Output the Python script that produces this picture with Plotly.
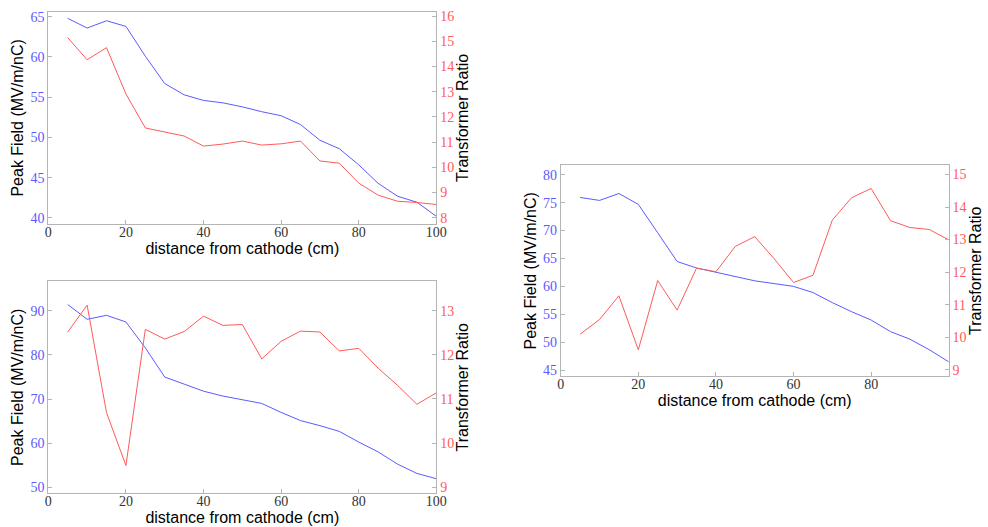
import plotly.graph_objects as go

# distance from cathode (cm)
distance = [5, 10, 15, 20, 25, 30, 35, 40, 45, 50,
            55, 60, 65, 70, 75, 80, 85, 90, 95, 100]

# panel A
peak_a = [64.8, 63.6, 64.5, 63.8, 60.1, 56.7, 55.3, 54.6, 54.3, 53.8,
          53.2, 52.7, 51.6, 49.65, 48.6, 46.6, 44.3, 42.7, 41.95, 40.2]
ratio_a = [15.15, 14.27, 14.75, 12.91, 11.56, 11.4, 11.24, 10.84, 10.92, 11.04,
           10.88, 10.93, 11.04, 10.25, 10.16, 9.37, 8.89, 8.65, 8.6, 8.52]

# panel B
peak_b = [91.4, 88.06, 88.96, 87.46, 81.6, 75.0, 73.4, 71.8, 70.7, 69.9,
          69.03, 67.0, 65.15, 64.0, 62.7, 60.3, 58.06, 55.3, 53.2, 52.0]
ratio_b = [12.52, 13.13, 10.69, 9.49, 12.58, 12.36, 12.53, 12.88, 12.67, 12.69,
           11.91, 12.31, 12.54, 12.52, 12.09, 12.15, 11.7, 11.31, 10.88, 11.14]

# panel C
peak_c = [75.92, 75.39, 76.63, 74.68, 69.6, 64.45, 63.3, 62.55, 61.67, 61.0,
          60.5, 60.0, 58.9, 57.1, 55.46, 53.98, 51.9, 50.55, 48.66, 46.5]
ratio_c = [10.09, 10.54, 11.27, 9.61, 11.74, 10.83, 12.12, 12.01, 12.79, 13.09,
           12.41, 11.68, 11.9, 13.6, 14.29, 14.57, 13.58, 13.37, 13.31, 12.99]

x_ticks_full = [0, 20, 40, 60, 80, 100]
x_ticks_short = [0, 20, 40, 60, 80]

BLUE = "#5a5aff"
RED = "#ff5a5a"
FRAME = "#b4b4b4"
TICK_FONT = "Liberation Serif"
LABEL_FONT = "Liberation Sans"

W, H = 988, 527

panels = [
    dict(peak=peak_a, ratio=ratio_a, box=(45, 439, 9, 223),
         yl=[39.26, 65.6], ylt=[40, 45, 50, 55, 60, 65],
         yr=[7.75, 16.17], yrt=list(range(8, 17)),
         xr=[0, 100], xt=x_ticks_full),
    dict(peak=peak_b, ratio=ratio_b, box=(45, 439, 281, 495),
         yl=[48.7, 96.65], ylt=[50, 60, 70, 80, 90],
         yr=[8.86, 13.67], yrt=[9, 10, 11, 12, 13],
         xr=[0, 100], xt=x_ticks_full),
    dict(peak=peak_c, ratio=ratio_c, box=(565.3, 959.3, 164, 376.7),
         yl=[43.94, 81.65], ylt=[45, 50, 55, 60, 65, 70, 75, 80],
         yr=[8.8, 15.28], yrt=[9, 10, 11, 12, 13, 14, 15],
         xr=[0, 100], xt=x_ticks_short),
]

fig = go.Figure()
layout = dict(
    width=W, height=H,
    margin=dict(l=0, r=0, t=0, b=0),
    paper_bgcolor="white", plot_bgcolor="white",
    showlegend=False,
)

for i, p in enumerate(panels):
    n = i + 1
    xa = f"x{n}" if n > 1 else "x"
    ya_l = f"y{2*n-1}" if 2 * n - 1 > 1 else "y"
    ya_r = f"y{2*n}"
    xl, xrpx, yt, yb = p["box"]
    xdom = [xl / W, xrpx / W]
    ydom = [1 - yb / H, 1 - yt / H]

    fig.add_trace(go.Scatter(x=distance, y=p["peak"], mode="lines",
                             line=dict(color=BLUE, width=1),
                             xaxis=xa, yaxis=ya_l))
    fig.add_trace(go.Scatter(x=distance, y=p["ratio"], mode="lines",
                             line=dict(color=RED, width=1),
                             xaxis=xa, yaxis=ya_r))

    xkey = "xaxis" if n == 1 else f"xaxis{n}"
    ylkey = "yaxis" if 2 * n - 1 == 1 else f"yaxis{2*n-1}"
    yrkey = f"yaxis{2*n}"

    layout[xkey] = dict(
        domain=xdom, anchor=ya_l, range=p["xr"], tickvals=p["xt"],
        showgrid=False, zeroline=False, showline=True, linecolor=FRAME,
        linewidth=1, mirror=True, ticks="inside", ticklen=4, tickcolor=FRAME,
        ticklabelstandoff=-5,
        tickfont=dict(family=TICK_FONT, size=14, color="#333333"),
        title=dict(text="distance from cathode (cm)", standoff=0,
                   font=dict(family=LABEL_FONT, size=16, color="black")),
    )
    layout[ylkey] = dict(
        domain=ydom, anchor=xa, range=p["yl"], tickvals=p["ylt"],
        showgrid=False, zeroline=False, showline=True, linecolor=FRAME,
        linewidth=1, ticks="inside", ticklen=4, tickcolor=FRAME,
        tickfont=dict(family=TICK_FONT, size=14, color=BLUE),
        title=dict(text="Peak Field (MV/m/nC)", standoff=2,
                   font=dict(family=LABEL_FONT, size=16, color="black")),
    )
    layout[yrkey] = dict(
        domain=ydom, anchor=xa, overlaying=ya_l, side="right",
        range=p["yr"], tickvals=p["yrt"],
        showgrid=False, zeroline=False, showline=True, linecolor=FRAME,
        linewidth=1, ticks="inside", ticklen=4, tickcolor=FRAME,
        tickfont=dict(family=TICK_FONT, size=14, color=RED),
        title=dict(text="Transformer Ratio", standoff=2,
                   font=dict(family=LABEL_FONT, size=16, color="black")),
    )

fig.update_layout(**layout)
fig.write_html("out.html")
